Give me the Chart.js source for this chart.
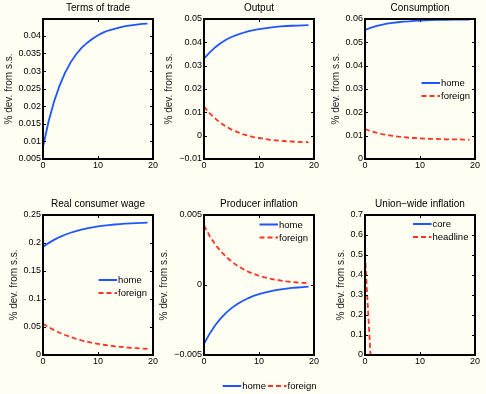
<!DOCTYPE html>
<html><head><meta charset="utf-8">
<script src="https://cdn.jsdelivr.net/npm/chart.js@4/dist/chart.umd.min.js"></script>
<style>
html,body{margin:0;padding:0;background:#fffef2;width:486px;height:394px;overflow:hidden;}
body{position:relative;}
canvas{position:absolute;}
</style></head><body>
<script>
// ---- data ----
const periods = [0,1,2,3,4,5,6,7,8,9,10,11,12,13,14,15,16,17,18,19];
const totHome = [0.0085,0.0156,0.0213,0.0258,0.0295,0.0324,0.0347,0.0366,0.0380,0.0392,0.0402,0.0410,0.0416,0.0420,0.0424,0.0428,0.0430,0.0432,0.0434,0.0435];
const outputHome = [0.0330,0.0356,0.0378,0.0396,0.0411,0.0423,0.0432,0.0440,0.0447,0.0452,0.0457,0.0460,0.0463,0.0466,0.0468,0.0470,0.0471,0.0472,0.0473,0.0474];
const outputForeign = [0.0125,0.0097,0.0074,0.0055,0.0039,0.0026,0.0016,0.0007,0.0000,-0.0006,-0.0010,-0.0014,-0.0018,-0.0020,-0.0022,-0.0024,-0.0025,-0.0027,-0.0028,-0.0028];
const consHome = [0.0553,0.0562,0.0569,0.0575,0.0580,0.0583,0.0586,0.0589,0.0590,0.0592,0.0593,0.0594,0.0595,0.0596,0.0596,0.0596,0.0597,0.0597,0.0597,0.0597];
const consForeign = [0.0128,0.0120,0.0113,0.0107,0.0103,0.0099,0.0096,0.0094,0.0091,0.0090,0.0088,0.0087,0.0086,0.0086,0.0085,0.0084,0.0084,0.0084,0.0083,0.0083];
const wageHome = [0.1930,0.1998,0.2056,0.2106,0.2147,0.2183,0.2213,0.2239,0.2261,0.2280,0.2295,0.2309,0.2320,0.2330,0.2338,0.2345,0.2351,0.2356,0.2361,0.2364];
const wageForeign = [0.0560,0.0499,0.0445,0.0398,0.0357,0.0321,0.0290,0.0262,0.0238,0.0217,0.0199,0.0183,0.0169,0.0156,0.0146,0.0136,0.0128,0.0121,0.0114,0.0109];
const ppiHome = [-0.00420,-0.00349,-0.00289,-0.00240,-0.00199,-0.00165,-0.00137,-0.00114,-0.00095,-0.00078,-0.00065,-0.00054,-0.00045,-0.00037,-0.00031,-0.00026,-0.00021,-0.00018,-0.00015,-0.00012];
const ppiForeign = [0.00425,0.00352,0.00292,0.00243,0.00202,0.00168,0.00139,0.00116,0.00096,0.00080,0.00066,0.00055,0.00046,0.00038,0.00032,0.00026,0.00022,0.00018,0.00015,0.00012];
const unionCore = [0,0,0,0,0,0,0,0,0,0,0,0,0,0,0,0,0,0,0,0];
const unionHeadline = [0.5,0,0,0,0,0,0,0,0,0,0,0,0,0,0,0,0,0,0,0];

// ---- tick labels ----
const xTicks = [0,10,20];
const totTicks = [0.005,0.01,0.015,0.02,0.025,0.03,0.035,0.04];
const outTicks = [-0.01,0,0.01,0.02,0.03,0.04,0.05];
const consTicks = [0,0.01,0.02,0.03,0.04,0.05,0.06];
const wageTicks = [0,0.05,0.1,0.15,0.2,0.25];
const ppiTicks = [-0.005,0,0.005];
const unionTicks = [0,0.1,0.2,0.3,0.4,0.5,0.6,0.7];

const titles = ['Terms of trade','Output','Consumption','Real consumer wage','Producer inflation','Union\u2212wide inflation'];
const yLabel = '% dev. from s.s.';

// ---- styling ----
const BLUE = '#1f55ff', RED = '#ff3322';
const FONT = '"Liberation Sans", Arial, sans-serif';
const TICK_PX = 9, TITLE_PX = 10, LEG_PX = 9.5, YLAB_PX = 10;
const padL = 50, padR = 8, padT = 19, axisH = 14;

const fmt = v => (v < 0 ? '\u2212' : '') + String(Math.abs(v));

const panels = [
  {box:[43,19,110,140], y:[0.005,0.0448], ticks:totTicks, title:titles[0],
   series:[{d:totHome,c:BLUE,dash:[]}]},
  {box:[204,19,110,140], y:[-0.01,0.05], ticks:outTicks, title:titles[1],
   series:[{d:outputHome,c:BLUE,dash:[]},{d:outputForeign,c:RED,dash:[5,3]}]},
  {box:[365,19,110,140], y:[0,0.06], ticks:consTicks, title:titles[2],
   series:[{d:consHome,c:BLUE,dash:[]},{d:consForeign,c:RED,dash:[5,3]}],
   legend:{dx:56.5,dy:64,items:['home','foreign']}},
  {box:[43,215,110,140], y:[0,0.25], ticks:wageTicks, title:titles[3],
   series:[{d:wageHome,c:BLUE,dash:[]},{d:wageForeign,c:RED,dash:[5,3]}],
   legend:{dx:55.5,dy:65,items:['home','foreign']}},
  {box:[204,215,110,140], y:[-0.005,0.005], ticks:ppiTicks, title:titles[4],
   series:[{d:ppiHome,c:BLUE,dash:[]},{d:ppiForeign,c:RED,dash:[5,3]}],
   legend:{dx:55.5,dy:9.5,items:['home','foreign']}, figLegend:true},
  {box:[365,215,110,140], y:[0,0.7], ticks:unionTicks, title:titles[5],
   series:[{d:unionCore,c:BLUE,dash:[]},{d:unionHeadline,c:RED,dash:[5,3]}],
   legend:{dx:48,dy:9,items:['core','headline']}}
];

function legendEntry(ctx, x0, y, label, color, dash) {
  ctx.save();
  ctx.strokeStyle = color; ctx.lineWidth = 2; ctx.setLineDash(dash);
  ctx.beginPath(); ctx.moveTo(x0, y); ctx.lineTo(x0 + 18.5, y); ctx.stroke();
  ctx.setLineDash([]);
  ctx.fillStyle = '#000'; ctx.font = LEG_PX + 'px ' + FONT;
  ctx.textBaseline = 'middle'; ctx.textAlign = 'left';
  ctx.fillText(label, x0 + 19.5, y + 0.5);
  ctx.restore();
}

const matlabAxes = {
  id: 'matlabAxes',
  afterDraw(chart, args, opts) {
    const {ctx, chartArea: a, scales: {x, y}} = chart;
    const p = opts.panel;
    ctx.save();
    ctx.strokeStyle = '#000'; ctx.lineWidth = 1;
    ctx.beginPath();
    xTicks.forEach(v => {
      const px = Math.round(x.getPixelForValue(v)) + 0.5;
      ctx.moveTo(px, a.bottom); ctx.lineTo(px, a.bottom - 3);
      ctx.moveTo(px, a.top); ctx.lineTo(px, a.top + 3);
    });
    p.ticks.forEach(v => {
      const py = Math.round(y.getPixelForValue(v)) + 0.5;
      ctx.moveTo(a.left, py); ctx.lineTo(a.left + 3, py);
      ctx.moveTo(a.right, py); ctx.lineTo(a.right - 3, py);
    });
    ctx.stroke();
    ctx.lineWidth = 2;
    ctx.strokeRect(a.left, a.top, a.width, a.height);
    ctx.fillStyle = '#000';
    ctx.font = TITLE_PX + 'px ' + FONT;
    ctx.textAlign = 'center'; ctx.textBaseline = 'middle';
    ctx.fillText(p.title, (a.left + a.right) / 2, a.top - 10.5);
    ctx.font = TICK_PX + 'px ' + FONT;
    let w = 0;
    p.ticks.forEach(v => { w = Math.max(w, ctx.measureText(fmt(v)).width); });
    ctx.save();
    ctx.translate(a.left - 2 - w - 9.5, (a.top + a.bottom) / 2);
    ctx.rotate(-Math.PI / 2);
    ctx.font = YLAB_PX + 'px ' + FONT;
    ctx.fillStyle = '#222';
    ctx.fillText(yLabel, 0, 0);
    ctx.restore();
    if (p.legend) {
      p.series.forEach((s, i) => {
        legendEntry(ctx, a.left + p.legend.dx, a.top + p.legend.dy + i * 13, p.legend.items[i], s.c, s.dash);
      });
    }
    if (p.figLegend) {
      legendEntry(ctx, a.left + 18.7, a.bottom + 31, 'home', BLUE, []);
      legendEntry(ctx, a.left + 64, a.bottom + 31, 'foreign', RED, [5,3]);
    }
    ctx.restore();
  }
};

panels.forEach((p, idx) => {
  const [bl, bt, bw, bh] = p.box;
  const extraB = p.figLegend ? (394 - (bt + bh + axisH)) : 6;
  const cv = document.createElement('canvas');
  const W = padL + bw + padR, H = padT + bh + axisH + extraB;
  cv.width = W; cv.height = H;
  cv.style.left = (bl - padL) + 'px'; cv.style.top = (bt - padT) + 'px';
  cv.style.width = W + 'px'; cv.style.height = H + 'px';
  document.body.appendChild(cv);
  new Chart(cv, {
    type: 'line',
    data: {
      datasets: p.series.map((s, i) => ({
        data: periods.map((t, k) => ({x: t, y: s.d[k]})),
        borderColor: s.c, borderWidth: 1.8, borderDash: s.dash,
        pointRadius: 0, tension: 0, fill: false,
        order: s.c === RED ? 0 : 1
      }))
    },
    options: {
      responsive: false, animation: false, devicePixelRatio: 1,
      layout: {padding: {top: padT, right: padR, left: 0, bottom: extraB}},
      plugins: {legend: {display: false}, tooltip: {enabled: false}, matlabAxes: {panel: p}},
      scales: {
        x: {
          type: 'linear', min: 0, max: 20,
          afterBuildTicks: s => { s.ticks = xTicks.map(v => ({value: v})); },
          afterFit: s => { s.height = axisH; },
          grid: {display: false, drawTicks: false}, border: {display: false},
          ticks: {padding: 1, color: '#000', font: {family: FONT, size: TICK_PX}, maxRotation: 0, autoSkip: false}
        },
        y: {
          type: 'linear', min: p.y[0], max: p.y[1],
          afterBuildTicks: s => { s.ticks = p.ticks.map(v => ({value: v})); },
          afterFit: s => { s.width = padL; },
          grid: {display: false, drawTicks: false}, border: {display: false},
          ticks: {padding: 2, color: '#000', font: {family: FONT, size: TICK_PX}, autoSkip: false, callback: v => fmt(v)}
        }
      }
    },
    plugins: [matlabAxes]
  });
});
</script>
</body></html>
